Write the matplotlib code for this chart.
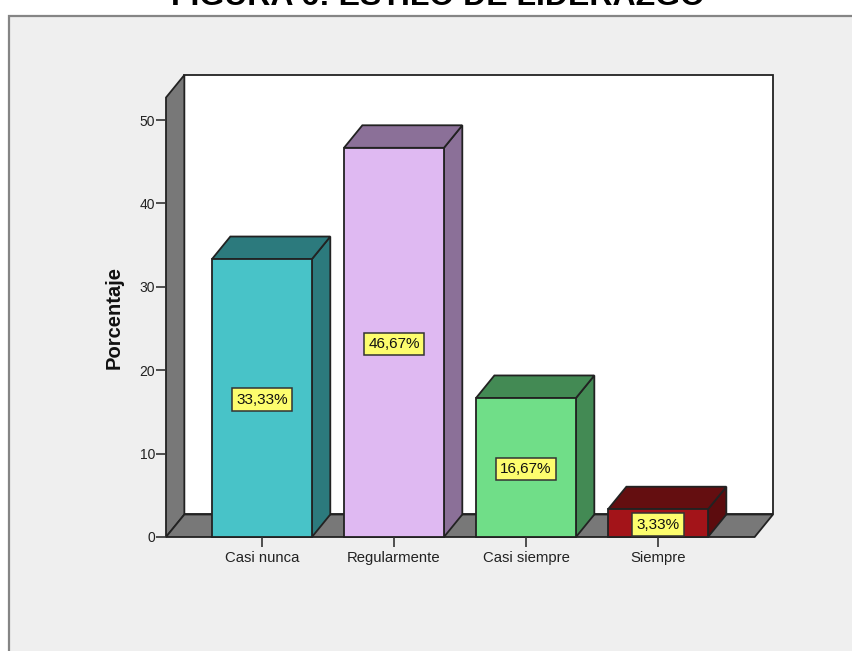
import matplotlib
matplotlib.use('Agg')
import matplotlib.pyplot as plt
from matplotlib.patches import Polygon, Rectangle

categorias = ['Casi nunca', 'Regularmente', 'Casi siempre', 'Siempre']
porcentajes = [33.33, 46.67, 16.67, 3.33]
etiquetas = ['33,33%', '46,67%', '16,67%', '3,33%']
ticks_y = [0, 10, 20, 30, 40, 50]
colores = ['#48c3c8', '#dfb9f2', '#70de88', '#a31419']
colores_top = ['#2c7a7d', '#8b7098', '#438a54', '#640e10']
colores_lado = ['#2c7a7d', '#8b7098', '#438a54', '#5c0c0e']

W, H = 852, 651
borde = '#222222'
lw = 1.3

fig = plt.figure(figsize=(W/100, H/100), dpi=100, facecolor='white')
plt.rcParams['font.family'] = ['Liberation Sans', 'DejaVu Sans']

#panel gris de fondo
panel = Rectangle((9/W, -0.01), 1, (651-16)/H + 0.01, transform=fig.transFigure,
                  facecolor='#efefef', edgecolor='#858585', linewidth=1.6, zorder=-1)
fig.patches.append(panel)

#el titulo queda cortado por arriba, igual que en la imagen original
fig.text(438/W, (651-5)/H, 'FIGURA 6: ESTILO DE LIDERAZGO', ha='center', va='baseline',
         fontsize=23, fontweight='bold', color='black')

ax = fig.add_axes([166/W, (651-537)/H, (773-166)/W, (537-75)/H])
ax.set_xlim(-0.727, 3.871)
ax.set_ylim(0, 55.4)
ax.patch.set_alpha(0)
for s in ax.spines.values():
    s.set_visible(False)

#profundidad del efecto 3D en unidades de datos
dx = 0.139
dy = 2.7
x0, x1 = ax.get_xlim()
y1 = ax.get_ylim()[1]
gris = '#787878'

#pared del fondo, pared izquierda y suelo
ax.add_patch(Polygon([(x0+dx, dy), (x1, dy), (x1, y1), (x0+dx, y1)], closed=True,
                     facecolor='white', edgecolor=borde, linewidth=lw, clip_on=False))
ax.add_patch(Polygon([(x0, 0), (x0+dx, dy), (x0+dx, y1), (x0, y1-dy)], closed=True,
                     facecolor=gris, edgecolor=borde, linewidth=lw, clip_on=False))
ax.add_patch(Polygon([(x0, 0), (x1-dx, 0), (x1, dy), (x0+dx, dy)], closed=True,
                     facecolor=gris, edgecolor=borde, linewidth=lw, clip_on=False))

ancho = 0.757
for i, v in enumerate(porcentajes):
    a = i - ancho/2
    b = i + ancho/2
    ax.add_patch(Polygon([(b, 0), (b+dx, dy), (b+dx, v+dy), (b, v)], closed=True,
                         facecolor=colores_lado[i], edgecolor=borde, linewidth=lw, clip_on=False))
    ax.add_patch(Polygon([(a, v), (b, v), (b+dx, v+dy), (a+dx, v+dy)], closed=True,
                         facecolor=colores_top[i], edgecolor=borde, linewidth=lw, clip_on=False))
    ax.bar(i, v, width=ancho, color=colores[i], edgecolor=borde, linewidth=lw, clip_on=False, zorder=2)
    ax.text(i, v/2, etiquetas[i], ha='center', va='center_baseline', fontsize=11, color='#111111', zorder=5,
            bbox=dict(boxstyle='square,pad=0.28', facecolor='#fdfd6e', edgecolor='#333333', linewidth=1.1))

ax.set_xticks(range(len(categorias)))
ax.set_xticklabels(categorias)
ax.set_yticks(ticks_y)
ax.tick_params(axis='x', length=7, width=1.2, color='#333333', labelsize=10.7, labelcolor='#222222', pad=3)
ax.tick_params(axis='y', length=7, width=1.2, color='#333333', labelsize=10, labelcolor='#222222', pad=1)
ax.set_ylabel('Porcentaje', fontsize=14.5, fontweight='bold', color='#111111')
ax.yaxis.set_label_coords(-0.069, 0.475)
ax.set_axisbelow(False)

fig.savefig('out.png', dpi=100, facecolor=fig.get_facecolor())
